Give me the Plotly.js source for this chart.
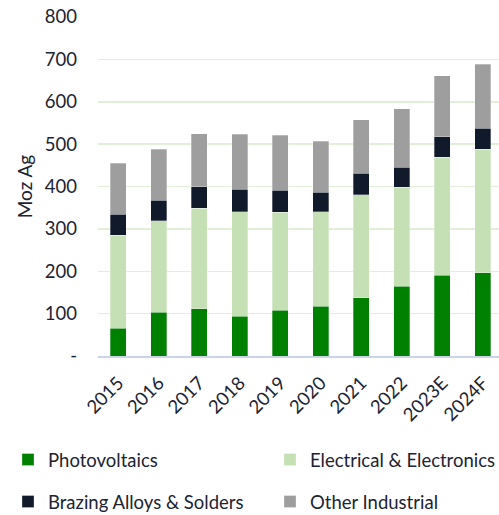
<!DOCTYPE html>
<html>
<head>
<meta charset="utf-8">
<script src="https://cdn.plot.ly/plotly-3.0.1.min.js"></script>
<style>html,body{margin:0;padding:0;overflow:hidden;background:#fff;width:499px;height:515px;}#chart{width:700px;height:560px;}</style>
</head>
<body>
<div id="chart"></div>
<script>
const years = ["2015","2016","2017","2018","2019","2020","2021","2022","2023E","2024F"];
const photovoltaics = [65,103,112,94,108,118,138,165,190,197];
const electrical = [220,216,237,247,231,223,243,233,279,291];
const brazing = [50,48,50,53,52,46,50,48,48,50];
const otherIndustrial = [120,121,126,129,130,120,127,137,144,151];
const yTickVals = [0,100,200,300,400,500,600,700,800];
const yTickText = ["-","100","200","300","400","500","600","700","800"];

const textColor = "#1c2333";
const line = {color:"rgba(255,255,255,0.5)", width:0.6};
const traces = [
  {name:"Photovoltaics", y:photovoltaics, color:"#008000", legend:"legend"},
  {name:"Electrical & Electronics", y:electrical, color:"#c5e0b4", legend:"legend"},
  {name:"Brazing Alloys & Solders", y:brazing, color:"#101a2b", legend:"legend2"},
  {name:"Other Industrial", y:otherIndustrial, color:"#9e9e9e", legend:"legend2"}
].map(s => ({type:"bar", name:s.name, x:years, y:s.y, legend:s.legend,
             marker:{color:s.color, line:line}, hoverinfo:"y+name"}));

// visible plot area: left 98, top 17, width 405, height 339
const W = 700, H = 560, L = 98, T = 17, PW = 405, PH = 339;
const GW = W - L; // full grid width (x axis domain shrinks to PW)
const legendX = (8 - L) / GW;
const legendCommon = {orientation:"h", xanchor:"left", yanchor:"middle",
  entrywidth:217, entrywidthmode:"pixels", traceorder:"normal",
  font:{size:18.5, color:textColor}, borderwidth:0, bgcolor:"rgba(0,0,0,0)"};

const layout = {
  width:W, height:H,
  margin:{l:L, r:0, t:T, b:H-T-PH},
  barmode:"stack", bargap:0.6,
  paper_bgcolor:"#fff", plot_bgcolor:"#fff",
  font:{family:"Lato, sans-serif", size:18, color:textColor},
  xaxis:{type:"category", domain:[0, PW/GW], tickangle:-45, showgrid:false, zeroline:false,
         showline:true, linecolor:"#c9d4e8", linewidth:2, ticks:"", ticklabelstandoff:7,
         tickfont:{size:18.5, color:textColor}},
  yaxis:{range:[0,800], tickvals:yTickVals, ticktext:yTickText, showgrid:true,
         gridcolor:"#e2f0d9", gridwidth:1.5, zeroline:false, showline:false, ticks:"",
         ticklabelstandoff:20, tickfont:{size:18.5, color:textColor},
         title:{text:"Moz Ag", font:{size:19, color:textColor}, standoff:7}},
  showlegend:true,
  legend:Object.assign({}, legendCommon, {x:legendX, y:(356-460)/PH}),
  legend2:Object.assign({}, legendCommon, {x:legendX, y:(356-502)/PH})
};
Plotly.newPlot("chart", traces, layout, {displayModeBar:false, staticPlot:true});
</script>
</body>
</html>
